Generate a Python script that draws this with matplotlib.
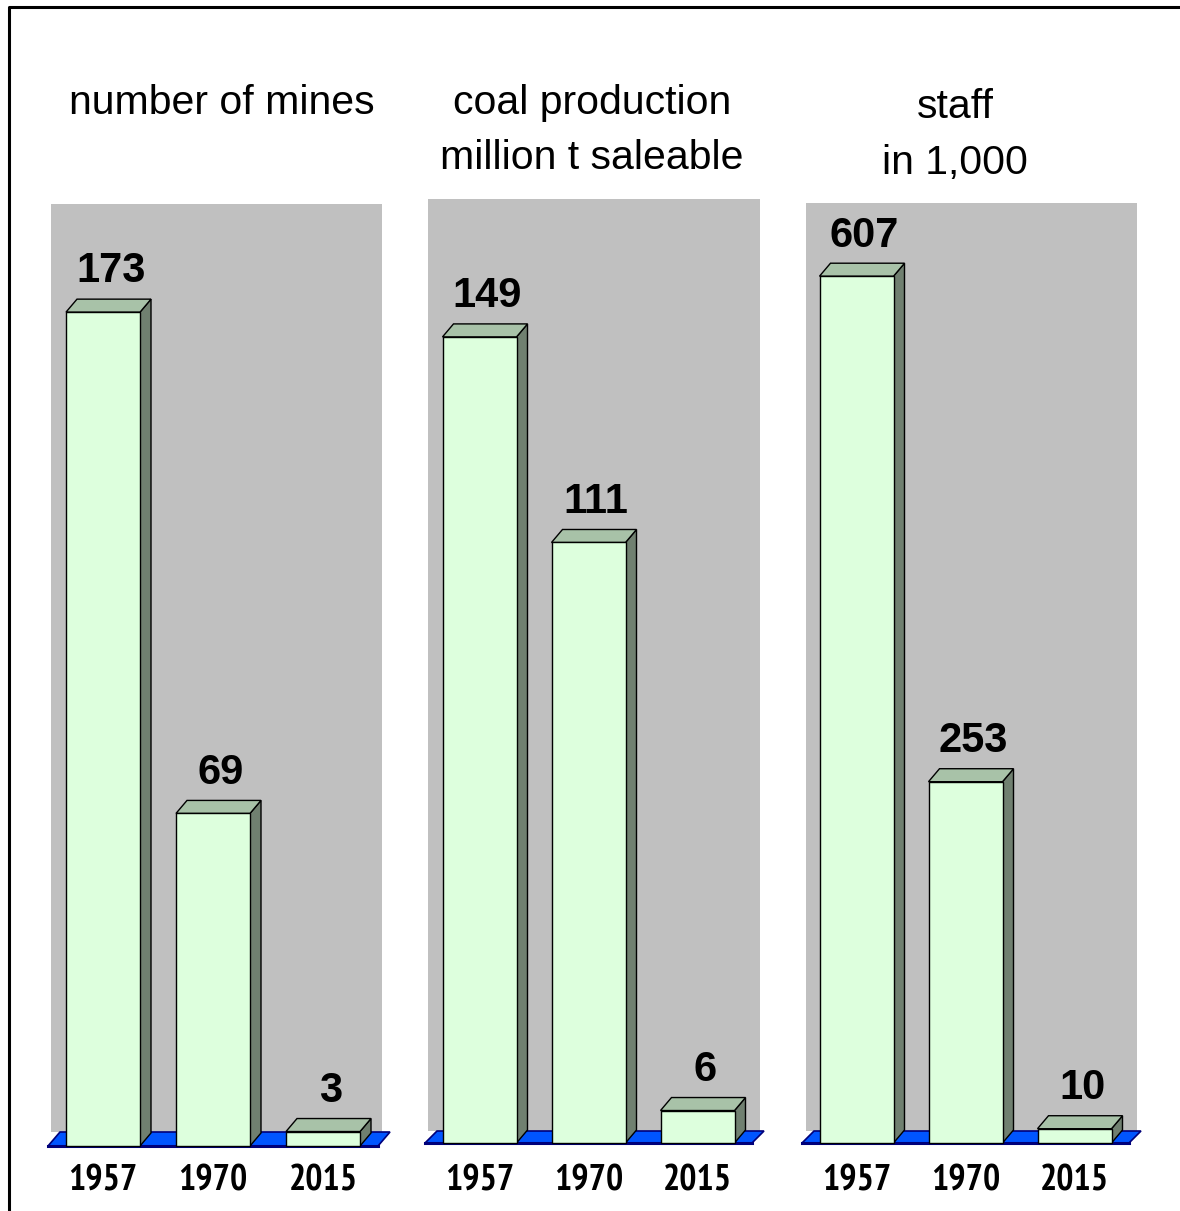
import matplotlib
matplotlib.use("Agg")
import matplotlib.pyplot as plt
from matplotlib.patches import Polygon
from matplotlib.lines import Line2D
import matplotlib.transforms as mtransforms
from matplotlib import font_manager

# ---- data ----
years = ["1957", "1970", "2015"]
mines = [173, 69, 3]
coal = [149, 111, 6]
staff = [607, 253, 10]
titles = [["number of mines"],
          ["coal production", "million t saleable"],
          ["staff", "in 1,000"]]
series = [mines, coal, staff]

# ---- layout (pixel geometry of each panel) ----
W, H = 1180, 1211
# wall_left, wall_right, wall_top, floor_back, floor_front, first_center, spacing, px_per_unit
panels = [
    (51, 382, 204, 1132, 1146, 103.0, 110.0, 4.82),
    (428, 760, 199, 1131, 1143, 479.5, 109.0, 5.41),
    (806, 1137, 203, 1131, 1143, 856.5, 109.0, 1.428),
]
title_pos = [(222, [103]), (592, [103, 158]), (955, [107, 163])]

FRONT = "#DDFFDD"
TOP = "#A8C2A8"
SIDE = "#708070"
WALL = "#C0C0C0"
FLOOR = "#0055FF"
FLOOR_EDGE = "#00007A"

BAR_W_PX = 74
DEPTH_X_PX, DEPTH_Y_PX = 11, 13
FLOOR_DX_PX = 12

# choose a narrow bold face for the year labels if one is installed
names = {f.name for f in font_manager.fontManager.ttflist}
if "Liberation Sans Narrow" in names:
    year_kw = dict(fontsize=26, fontweight="bold", family=["Liberation Sans Narrow"])
elif "PT Sans Narrow" in names:
    year_kw = dict(fontsize=26, fontweight="bold", family=["PT Sans Narrow"])
elif "Roboto Condensed" in names:
    year_kw = dict(fontsize=25, fontweight="bold", family=["Roboto Condensed"])
else:
    year_kw = dict(fontsize=23, fontweight="bold", family=["DejaVu Sans"],
                   fontstretch="condensed")

fig = plt.figure(figsize=(W / 100, H / 100), dpi=100)
fig.patch.set_facecolor("white")

for k, (wl, wr, wt, fb, ff, c0, sp, s) in enumerate(panels):
    ax = fig.add_axes([wl / W, 1 - fb / H, (wr - wl) / W, (fb - wt) / H])
    ax.set_facecolor(WALL)
    ax.set_xlim((wl - c0) / sp, (wr - c0) / sp)
    ax.set_ylim((ff - fb) / s, (ff - wt) / s)
    for sp_ in ax.spines.values():
        sp_.set_visible(False)
    ax.set_xticks([])
    ax.set_yticks([])

    dx = DEPTH_X_PX / sp
    dy = DEPTH_Y_PX / s
    fdx = FLOOR_DX_PX / sp
    fdy = (ff - fb) / s
    x = list(range(len(years)))

    # floor
    floor = Polygon([(-0.5, 0), (2.5, 0), (2.5 + fdx, fdy), (-0.5 + fdx, fdy)],
                    closed=True, facecolor=FLOOR, edgecolor=FLOOR_EDGE,
                    lw=1.2, clip_on=False, zorder=1)
    ax.add_patch(floor)
    ax.add_line(Line2D([-0.5, 2.5], [0, 0], color=FLOOR_EDGE, lw=2.2,
                       clip_on=False, zorder=1.5))

    bars = ax.bar(x, series[k], width=BAR_W_PX / sp, color=FRONT,
                  edgecolor="black", linewidth=1.0, clip_on=False, zorder=3)
    for rect, v in zip(bars, series[k]):
        x0 = rect.get_x()
        x1 = x0 + rect.get_width()
        h = rect.get_height()
        side = Polygon([(x1, 0), (x1 + dx, dy), (x1 + dx, h + dy), (x1, h)],
                       closed=True, facecolor=SIDE, edgecolor="black",
                       lw=1.0, clip_on=False, zorder=2.9)
        top = Polygon([(x0, h), (x1, h), (x1 + dx, h + dy), (x0 + dx, h + dy)],
                      closed=True, facecolor=TOP, edgecolor="black",
                      lw=1.0, clip_on=False, zorder=2.9)
        ax.add_patch(side)
        ax.add_patch(top)
        ax.annotate(str(v), xy=(rect.get_x() + rect.get_width() / 2 + dx / 2 + 0.02, h + dy),
                    xytext=(0, 12), textcoords="offset points",
                    ha="center", va="baseline", fontsize=30, fontweight="bold",
                    family=["Liberation Sans", "DejaVu Sans"], zorder=5,
                    annotation_clip=False)

    trans = mtransforms.blended_transform_factory(ax.transData, fig.transFigure)
    for xi, yr in zip(x, years):
        ax.text(xi, 1 - 1181 / H, yr, transform=trans, ha="center", va="center",
                clip_on=False, **year_kw)

    tx, tys = title_pos[k]
    for line, ty in zip(titles[k], tys):
        fig.text(tx / W, 1 - ty / H, line, ha="center", va="center",
                 fontsize=29.5, family=["Liberation Sans", "DejaVu Sans"])

# outer frame (left and top edges)
fig.add_artist(Line2D([9 / W, 9 / W, 1.0], [0.0, 1 - 7 / H, 1 - 7 / H],
                      transform=fig.transFigure, color="black", lw=2.2))

fig.savefig("out.png", dpi=100, facecolor="white")
